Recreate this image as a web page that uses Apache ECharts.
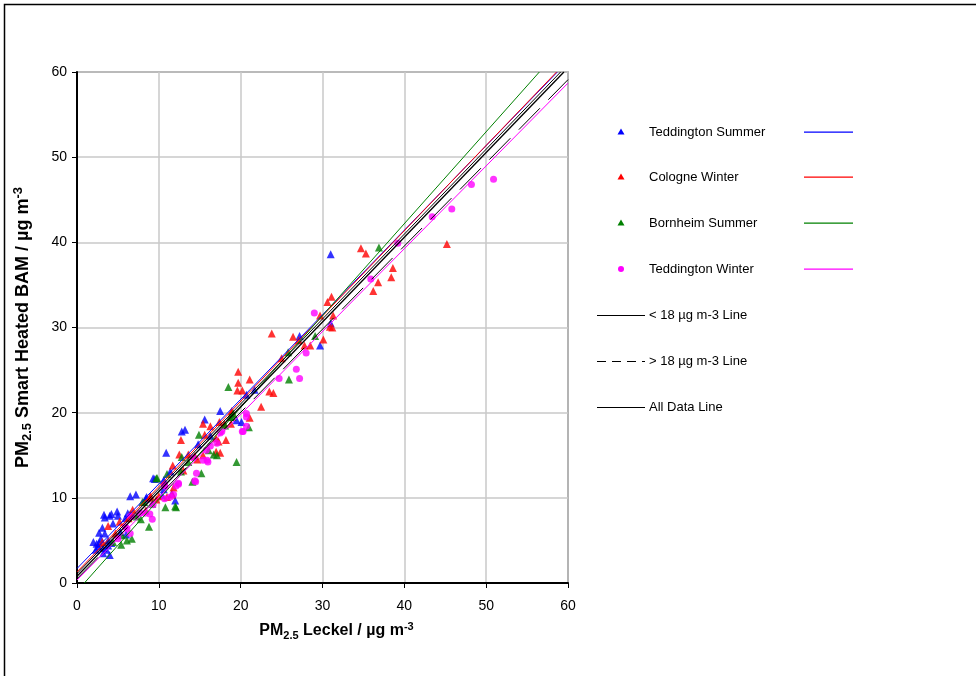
<!DOCTYPE html>
<html>
<head>
<meta charset="utf-8">
<script src="https://cdn.jsdelivr.net/npm/echarts@6/dist/echarts.min.js"></script>
<style>
html,body{margin:0;padding:0;background:#fff;}
#chart{width:976px;height:676px;}
</style>
</head>
<body>
<div id="chart"></div>
<script>
// ---- Data (x = Leckel, y = Smart Heated BAM) ----
const seriesNames = ['Teddington Summer', 'Cologne Winter', 'Bornheim Summer', 'Teddington Winter'];
const lineNames = ['< 18 µg m-3 Line', '> 18 µg m-3 Line', 'All Data Line'];
const axisTicks = [0, 10, 20, 30, 40, 50, 60];

const teddingtonSummer = [
  [2.0,4.8],[2.3,3.9],[2.4,4.6],[2.6,4.3],[2.7,5.9],[2.7,4.7],[2.9,5.2],[3.1,6.5],[3.2,4.1],[3.2,3.5],
  [3.3,8.0],[3.4,5.8],[3.4,7.7],[3.6,3.9],[3.8,5.0],[3.8,4.4],[4.0,3.3],[4.0,7.9],[4.2,4.7],[4.2,8.1],
  [4.4,7.0],[4.9,8.4],[5.0,7.9],[5.3,6.0],[5.9,7.6],[6.0,5.7],[6.2,8.2],[6.5,8.1],[6.5,10.2],[7.2,10.4],
  [8.4,9.9],[8.5,10.1],[9.3,12.3],[9.5,12.2],[10.4,10.3],[10.6,12.1],[10.6,11.0],[10.9,15.3],[11.4,13.1],
  [11.6,10.5],[12.0,9.7],[12.8,17.8],[13.2,18.0],[14.8,16.3],[15.6,19.2],[16.3,17.3],[17.5,20.2],
  [19.5,19.1],[20.1,18.9],[20.7,22.1],[21.7,22.7],[27.2,29.0],[29.7,27.9],[31.0,30.5],[31.0,38.6]
];
const cologneWinter = [
  [3.1,4.8],[3.8,6.7],[4.7,5.8],[5.2,7.2],[6.3,7.6],[6.8,8.6],[8.4,8.5],[8.9,10.0],[9.0,10.2],[9.7,9.8],
  [10.0,10.2],[11.0,10.1],[11.6,10.4],[11.8,11.2],[11.7,13.8],[12.5,15.1],[12.7,16.8],[13.0,13.2],[13.6,15.1],
  [14.4,14.9],[14.7,14.5],[15.4,15.0],[15.4,18.7],[15.6,17.4],[16.3,18.4],[17.0,17.0],[17.0,15.4],[17.3,16.6],
  [17.4,18.9],[17.5,15.3],[18.0,18.7],[18.2,16.8],[18.8,18.7],[18.9,20.2],[18.9,19.9],[19.6,22.6],[19.7,24.8],
  [19.7,23.5],[20.2,22.6],[21.1,23.9],[21.1,19.4],[22.5,20.7],[23.5,22.5],[24.0,22.3],[23.8,29.3],[25.0,26.4],
  [26.4,28.9],[27.1,28.5],[27.8,27.9],[28.5,27.9],[29.7,31.4],[30.1,28.6],[30.6,33.0],[30.9,30.1],[31.1,33.6],
  [31.2,30.0],[31.3,31.4],[34.7,39.3],[35.3,38.7],[36.2,34.3],[36.8,35.3],[38.4,35.9],[38.6,37.0],[45.2,39.8]
];
const bornheimSummer = [
  [4.4,4.8],[5.4,4.5],[5.5,5.6],[6.1,5.0],[6.7,5.2],[7.3,7.8],[7.8,7.5],[8.0,9.5],[8.2,9.5],[8.8,6.6],
  [9.2,9.3],[9.7,12.3],[9.8,12.3],[10.8,8.9],[11.0,12.8],[12.1,8.9],[12.0,9.0],[12.7,13.1],[12.8,14.8],
  [13.6,14.2],[14.1,11.9],[14.9,17.4],[15.2,12.9],[16.1,15.6],[16.7,15.1],[17.1,15.0],[18.1,18.5],[18.5,23.0],
  [18.7,19.5],[19.0,19.5],[19.1,19.9],[19.5,14.2],[21.0,18.3],[25.8,27.1],[25.9,23.9],[29.1,29.0],[36.9,39.4]
];
const teddingtonWinter = [
  [5.0,5.2],[5.9,6.6],[6.1,6.4],[6.5,5.8],[6.5,7.8],[6.7,7.8],[7.7,8.2],[8.3,8.2],[8.9,8.1],[9.2,7.5],
  [9.3,9.2],[10.7,9.9],[10.7,11.5],[10.7,11.4],[11.4,10.1],[11.8,10.4],[12.1,11.4],[12.4,11.7],[12.4,11.6],
  [14.2,14.7],[14.4,12.0],[14.5,11.9],[14.6,12.9],[15.4,14.4],[15.9,14.4],[16.0,14.2],[15.8,15.6],[16.3,16.1],
  [17.1,16.4],[17.5,17.6],[17.7,17.8],[20.2,17.8],[20.3,17.8],[20.7,18.4],[20.7,19.5],[20.7,19.9],[24.7,24.0],
  [26.8,25.1],[27.2,24.0],[28.0,27.0],[29.0,31.7],[35.9,35.7],[39.2,39.9],[43.4,43.0],[45.8,43.9],[48.2,46.8],
  [50.9,47.4]
];

// Regression lines: two endpoints each
const fitTeddingtonSummer = [[0,1.7],[58.7,60]];
const fitCologneWinter   = [[0,1.3],[58.6,60]];
const fitBornheimSummer  = [[0.9,0],[56.5,60]];
const fitTeddingtonWinter= [[0,0.35],[60,58.7]];
const fitBelow18 = [[0,1.1],[59.1,60]];
const fitAbove18 = [[0,0.5],[60,59.1]];
const fitAllData = [[0,0.8],[59.5,60]];

// ---- Styles ----
const colors = ['#0000ff', '#ff0000', '#008000', '#ff00ff'];
const symbols = ['triangle', 'triangle', 'triangle', 'circle'];
const scatterSets = [teddingtonSummer, cologneWinter, bornheimSummer, teddingtonWinter];
const fitSets = [fitTeddingtonSummer, fitCologneWinter, fitBornheimSummer, fitTeddingtonWinter];

const FONT = 'Liberation Sans, Arial, sans-serif';

const series = [];
scatterSets.forEach((d, i) => {
  series.push({
    name: seriesNames[i], type: 'scatter', data: d,
    symbol: symbols[i], symbolSize: symbols[i] === 'circle' ? 7 : 8,
    itemStyle: { color: colors[i] }, z: 2, silent: true
  });
});
fitSets.forEach((d, i) => {
  series.push({
    name: seriesNames[i] + ' fit', type: 'line', data: d, showSymbol: false, symbol: 'none',
    lineStyle: { color: colors[i], width: 1 }, z: 3, silent: true, clip: true
  });
});
series.push({ name: lineNames[0], type: 'line', data: fitBelow18, symbol: 'none',
  lineStyle: { color: '#000', width: 1 }, z: 4, silent: true });
series.push({ name: lineNames[1], type: 'line', data: fitAbove18, symbol: 'none',
  lineStyle: { color: '#000', width: 1, type: [30, 12] }, z: 4, silent: true });
series.push({ name: lineNames[2], type: 'line', data: fitAllData, symbol: 'none',
  lineStyle: { color: '#000', width: 1.3 }, z: 4, silent: true });

// ---- Legend drawn as graphics ----
const legendY = [132, 177, 223, 269, 315, 361, 407];
const graphics = [
  { type: 'rect', shape: { x: 4.5, y: 4.5, width: 1200, height: 1200 },
    style: { fill: 'none', stroke: '#000', lineWidth: 1.5 }, silent: true }
];
seriesNames.forEach((n, i) => {
  const y = legendY[i];
  if (symbols[i] === 'circle') {
    graphics.push({ type: 'circle', shape: { cx: 621, cy: y, r: 3 }, style: { fill: colors[i] } });
  } else {
    graphics.push({ type: 'polygon', shape: { points: [[621, y - 3.5], [624.5, y + 2.5], [617.5, y + 2.5]] },
      style: { fill: colors[i] } });
  }
  graphics.push({ type: 'text', x: 649, y: y, style: { text: n, font: '13px ' + FONT, fill: '#000', textVerticalAlign: 'middle' } });
  graphics.push({ type: 'rect', shape: { x: 804, y: y - 0.5, width: 49, height: 1.3 }, style: { fill: colors[i] } });
});
lineNames.forEach((n, j) => {
  const y = legendY[4 + j];
  graphics.push({ type: 'line', shape: { x1: 597, y1: y + 0.5, x2: 645, y2: y + 0.5 },
    style: { stroke: '#000', lineWidth: 1.2, lineDash: j === 1 ? [9, 6] : null } });
  graphics.push({ type: 'text', x: 649, y: y, style: { text: n, font: '13px ' + FONT, fill: '#000', textVerticalAlign: 'middle' } });
});

function richName(size) {
  return {
    b: { fontSize: size, fontWeight: 'bold', fontFamily: FONT, color: '#000', lineHeight: size + 4 },
    sub: { fontSize: size - 5, fontWeight: 'bold', fontFamily: FONT, color: '#000', lineHeight: 10, verticalAlign: 'bottom' },
    sup: { fontSize: size - 5, fontWeight: 'bold', fontFamily: FONT, color: '#000', lineHeight: 10, verticalAlign: 'top' }
  };
}

const chart = echarts.init(document.getElementById('chart'), null, { renderer: 'canvas' });
chart.setOption({
  animation: false,
  backgroundColor: '#fff',
  grid: { left: 77, right: 408, top: 72, bottom: 93, show: true, borderColor: '#222', borderWidth: 1.2 },
  xAxis: {
    type: 'value', min: axisTicks[0], max: axisTicks[axisTicks.length - 1], interval: 10,
    name: '{b|PM}{sub|2.5}{b| Leckel / µg m}{sup|-3}', nameLocation: 'middle', nameGap: 38,
    nameTextStyle: { rich: richName(16), padding: [0, 0, 0, 28] },
    axisLine: { show: true, lineStyle: { color: '#000', width: 2 } },
    axisTick: { show: true, length: 5, inside: false, lineStyle: { color: '#000' } },
    axisLabel: { margin: 16, fontSize: 14, fontFamily: FONT, color: '#000' },
    splitLine: { show: true, lineStyle: { color: '#c8c8c8', width: 1.5 } }
  },
  yAxis: {
    type: 'value', min: axisTicks[0], max: axisTicks[axisTicks.length - 1], interval: 10,
    name: '{b|PM}{sub|2.5}{b| Smart Heated BAM / µg m}{sup|-3}', nameLocation: 'middle', nameGap: 43, nameRotate: 90,
    nameTextStyle: { rich: richName(18) },
    axisLine: { show: true, lineStyle: { color: '#000', width: 2 } },
    axisTick: { show: true, length: 5, inside: false, lineStyle: { color: '#000' } },
    axisLabel: { margin: 10, fontSize: 14, fontFamily: FONT, color: '#000' },
    splitLine: { show: true, lineStyle: { color: '#c8c8c8', width: 1.5 } }
  },
  graphic: graphics,
  series: series
});
</script>
</body>
</html>
